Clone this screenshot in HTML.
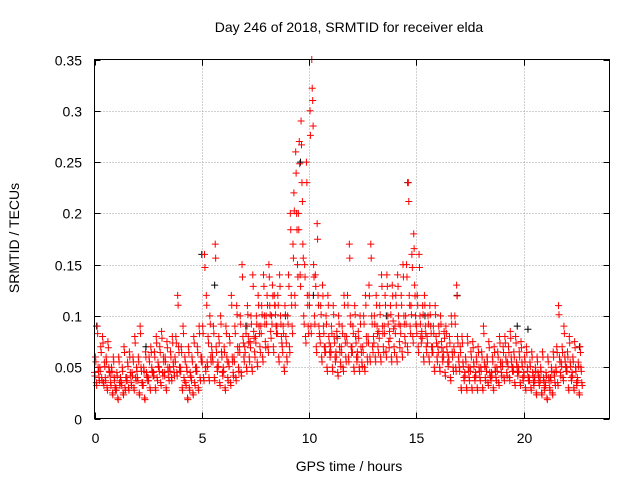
<!DOCTYPE html>
<html><head><meta charset="utf-8"><style>
body{margin:0;background:#fff}
svg{display:block;font-family:"Liberation Sans",sans-serif}
</style></head><body>
<svg id="chart" width="640" height="480" viewBox="0 0 640 480" xmlns="http://www.w3.org/2000/svg">
<rect width="640" height="480" fill="#fff"/>
<text x="349" y="32" font-size="14" text-anchor="middle">Day 246 of 2018, SRMTID for receiver elda</text>
<text transform="translate(19,238) rotate(-90)" font-size="14" text-anchor="middle">SRMTID / TECUs</text>
<text x="349" y="471" font-size="14" text-anchor="middle">GPS time / hours</text>
<g id="grid"></g><g id="ticks"></g><g id="pts"></g>
<rect x="94.5" y="59.5" width="515" height="359" fill="none" stroke="#000"/>
</svg>
<script>
const xTicks=[0,5,10,15,20];
const yTicks=[0,0.05,0.1,0.15,0.2,0.25,0.3,0.35];
const yTickLabels=["0","0.05","0.1","0.15","0.2","0.25","0.3","0.35"];
const binStarts=[];for(let i=0;i<91;i++)binStarts.push(i*0.25);
const binValues=[
[.045,.06,.035,.09,.05,.04],[.05,.07,.04,.08,.035,.055],[.04,.06,.03,.075,.05,.045],[.035,.05,.025,.06,.04,.03],
[.03,.045,.02,.06,.035,.04],[.035,.05,.025,.07,.03,.04],[.04,.055,.03,.065,.045,.035],[.045,.06,.03,.08,.04,.05],
[.04,.06,.025,.09,.05,.035],[.035,.05,.02,.065,.045,.04],[.04,.06,.03,.07,.05,.045],[.045,.065,.03,.08,.04,.055],
[.05,.07,.035,.085,.045,.06],[.045,.06,.03,.075,.05,.04],[.05,.065,.04,.08,.055,.045],[.06,.08,.045,.12,.07,.05],
[.05,.07,.03,.09,.04,.06],[.035,.05,.02,.07,.03,.045],[.04,.06,.025,.08,.035,.05],[.05,.07,.03,.09,.04,.06],
[.06,.09,.04,.16,.05,.12],[.055,.08,.04,.1,.06,.07],[.06,.09,.04,.17,.07,.05],[.055,.08,.035,.1,.065,.045],
[.05,.07,.03,.09,.06,.04],[.055,.08,.035,.12,.06,.045],[.06,.09,.04,.11,.07,.05],[.07,.1,.045,.15,.08,.06],
[.07,.09,.05,.11,.08,.06],[.075,.1,.05,.14,.085,.065],[.08,.1,.055,.12,.09,.07],[.09,.11,.06,.14,.1,.075],
[.1,.12,.07,.15,.11,.085],[.1,.13,.07,.12,.11,.09],[.09,.12,.06,.14,.1,.08],[.07,.09,.05,.11,.08,.06],
[.1,.14,.07,.2,.12,.09],[.17,.22,.12,.26,.2,.15],[.2,.27,.14,.29,.23,.17],[.1,.15,.08,.25,.12,.09],
[.12,.3,.09,.35,.31,.15],[.1,.14,.07,.19,.12,.09],[.08,.11,.06,.13,.09,.07],[.07,.1,.05,.12,.08,.065],
[.07,.09,.05,.11,.08,.06],[.065,.085,.045,.1,.07,.055],[.07,.09,.05,.12,.08,.06],[.08,.12,.06,.17,.1,.07],
[.07,.09,.05,.11,.08,.06],[.065,.085,.05,.1,.07,.055],[.07,.1,.05,.12,.08,.06],[.08,.13,.06,.17,.1,.07],
[.08,.1,.06,.12,.09,.07],[.085,.11,.06,.14,.09,.07],[.09,.12,.065,.14,.1,.075],[.085,.11,.06,.13,.095,.07],
[.09,.12,.06,.14,.1,.075],[.09,.12,.065,.15,.1,.08],[.1,.15,.07,.23,.12,.09],[.11,.16,.08,.18,.13,.1],
[.09,.12,.07,.16,.1,.08],[.085,.11,.06,.12,.09,.07],[.08,.1,.06,.11,.09,.07],[.07,.09,.05,.11,.08,.06],
[.07,.09,.05,.1,.075,.06],[.065,.085,.045,.09,.07,.055],[.06,.08,.04,.1,.065,.05],[.07,.1,.05,.13,.08,.06],
[.05,.07,.03,.08,.055,.04],[.045,.06,.03,.08,.05,.04],[.05,.065,.03,.075,.055,.04],[.045,.06,.03,.07,.05,.04],
[.05,.065,.03,.09,.055,.04],[.05,.06,.035,.075,.045,.04],[.045,.06,.03,.07,.05,.04],[.05,.065,.035,.08,.055,.045],
[.055,.07,.04,.08,.06,.045],[.055,.07,.04,.085,.06,.05],[.05,.065,.035,.08,.055,.045],[.05,.065,.035,.075,.055,.04],
[.045,.06,.03,.07,.05,.04],[.04,.055,.03,.065,.045,.035],[.04,.05,.025,.06,.045,.035],[.04,.05,.025,.065,.04,.03],
[.035,.045,.02,.06,.04,.03],[.04,.05,.025,.065,.045,.035],[.05,.07,.035,.11,.06,.045],[.055,.07,.04,.09,.06,.05],
[.05,.065,.03,.08,.055,.04],[.045,.06,.03,.075,.05,.035],[.04,.055,.025,.07,.05,.035]];
const blackTimes=[0.1,2.4,5.0,5.6,7.1,8.9,9.6,10.2,11.3,13.6,14.6,15.4,16.9,18.3,19.7,20.2,22.6];
const blackValues=[0.09,0.07,0.16,0.13,0.09,0.1,0.25,0.12,0.08,0.1,0.23,0.1,0.12,0.06,0.09,0.087,0.07];

const X0=94.5,X1=609.5,Y0=418.5,Y1=59.5,XMAX=24,YMAX=0.35;
const xs=v=>X0+(X1-X0)*v/XMAX, ys=v=>Y0-(Y0-Y1)*v/YMAX;
const NS="http://www.w3.org/2000/svg";
const grid=document.getElementById('grid'),ticks=document.getElementById('ticks'),pts=document.getElementById('pts');
function mk(tag,attrs,parent){const e=document.createElementNS(NS,tag);for(const k in attrs)e.setAttribute(k,attrs[k]);parent.appendChild(e);return e;}
xTicks.forEach(t=>{const x=Math.round(xs(t))+0.5;
 if(t>0){const g=mk('line',{x1:x,x2:x,y1:Y1,y2:Y0,stroke:'#a0a0a0','stroke-dasharray':'1,2'},grid);
 
 }
 mk('line',{x1:x,x2:x,y1:Y0,y2:Y0-6,stroke:'#000'},ticks);mk('line',{x1:x,x2:x,y1:Y1,y2:Y1+6,stroke:'#000'},ticks);
 const l=mk('text',{x:x,y:443,'font-size':14,'text-anchor':'middle'},ticks);l.textContent=t;
 
 });
yTicks.forEach((t,i)=>{const y=Math.round(ys(t))+0.5;
 if(t>0&&t<YMAX){const g=mk('line',{x1:X0,x2:X1,y1:y,y2:y,stroke:'#a0a0a0','stroke-dasharray':'1,2'},grid);
 
 }
 mk('line',{x1:X0,x2:X0+6,y1:y,y2:y,stroke:'#000'},ticks);mk('line',{x1:X1,x2:X1-6,y1:y,y2:y,stroke:'#000'},ticks);
 const l=mk('text',{x:82,y:y+5,'font-size':14,'text-anchor':'end'},ticks);l.textContent=yTickLabels[i];
 
 });
function plus(t,v,col,name){const x=xs(t),y=ys(v);
 const p=mk('path',{d:`M${x-3.5} ${y}h7M${x} ${y-3.5}v7`,stroke:col,'stroke-width':1,fill:'none'},pts);
 
 }
blackTimes.forEach((t,i)=>plus(t,blackValues[i],'#000','black-point'));
binStarts.forEach((t,i)=>binValues[i].forEach((v,j)=>{plus(t+j*0.042,v,'#ff0000','red-point');
 plus(t+j*0.042+0.02,v*0.92,'#ff0000','red-point');}));
</script>
</body></html>
